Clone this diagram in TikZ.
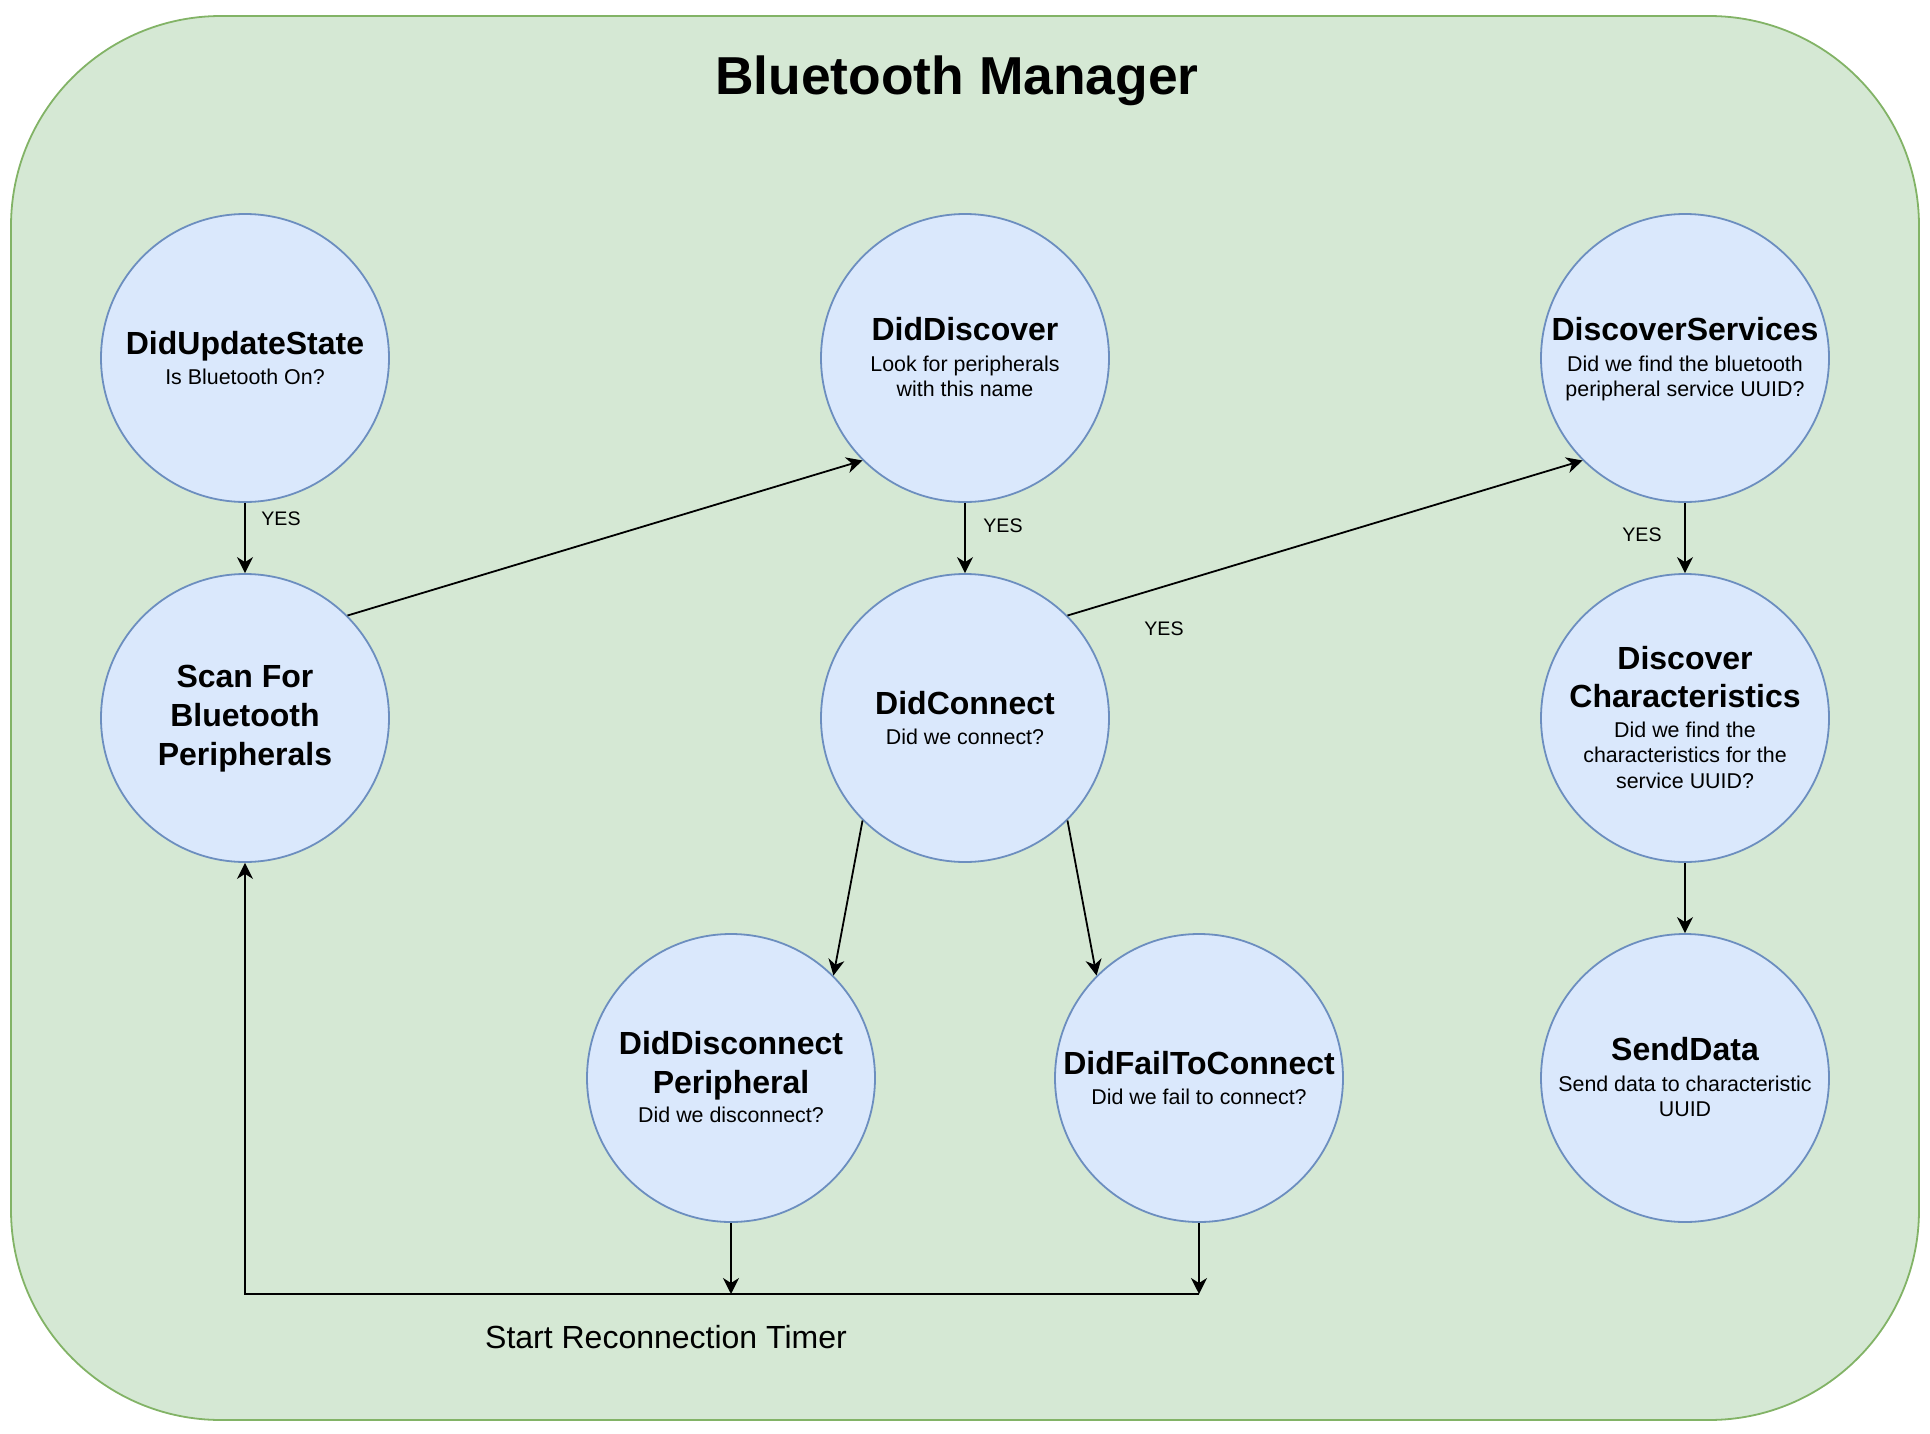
\documentclass[tikz,border=0pt]{standalone}
\usepackage{fontspec}
\setmainfont{Liberation Sans}
\usetikzlibrary{arrows.meta,calc}
\definecolor{bggreen}{HTML}{D5E8D4}
\definecolor{bgstroke}{HTML}{82B366}
\definecolor{cfill}{HTML}{DAE8FC}
\definecolor{cstroke}{HTML}{6C8EBF}
\begin{document}
\begin{tikzpicture}[x=1pt,y=-1pt,
  circ/.style={circle, minimum size=288pt, inner sep=0pt, fill=cfill, draw=cstroke, line width=1.8pt},
  ttl/.style={anchor=base, inner sep=0pt, font=\fontsize{32}{38}\selectfont\bfseries},
  sub/.style={anchor=base, inner sep=0pt, font=\fontsize{21.4}{25}\selectfont},
  yes/.style={inner sep=0pt, font=\fontsize{19.6}{23}\selectfont},
  arr/.style={line width=1.8pt, -{Stealth[length=16pt,width=16pt,inset=5pt]}}]
\useasboundingbox (0,0) rectangle (1930,1434);
\node[draw=bgstroke, fill=bggreen, line width=1.8pt, rounded corners=210pt,
      minimum width=1908pt, minimum height=1404pt, inner sep=0pt] (bg) at (965,718) {};
\node[anchor=base, inner sep=0pt, font=\fontsize{53.4}{64}\selectfont\bfseries] (title) at (957,95) {Bluetooth Manager};

% circles
\node[circ] (dus) at (245,358) {};
\node[circ] (scan) at (245,718) {};
\node[circ] (ddisc) at (965,358) {};
\node[circ] (dconn) at (965,718) {};
\node[circ] (dserv) at (1685,358) {};
\node[circ] (dchar) at (1685,718) {};
\node[circ] (send) at (1685,1078) {};
\node[circ] (ddisconn) at (731,1078) {};
\node[circ] (dfail) at (1199,1078) {};

% texts
\node[ttl] (dus-t) at ($(dus)+(0,-4)$) {DidUpdateState};
\node[sub] (dus-s) at ($(dus)+(0,26)$) {Is Bluetooth On?};

\node[ttl] (scan-t1) at ($(scan)+(0,-31)$) {Scan For};
\node[ttl] (scan-t2) at ($(scan)+(0,8)$) {Bluetooth};
\node[ttl] (scan-t3) at ($(scan)+(0,47)$) {Peripherals};

\node[ttl] (ddisc-t) at ($(ddisc)+(0,-18)$) {DidDiscover};
\node[sub] (ddisc-s1) at ($(ddisc)+(0,13)$) {Look for peripherals};
\node[sub] (ddisc-s2) at ($(ddisc)+(0,38)$) {with this name};

\node[ttl] (dconn-t) at ($(dconn)+(0,-4)$) {DidConnect};
\node[sub] (dconn-s) at ($(dconn)+(0,26)$) {Did we connect?};

\node[ttl] (dserv-t) at ($(dserv)+(0,-18)$) {DiscoverServices};
\node[sub] (dserv-s1) at ($(dserv)+(0,13)$) {Did we find the bluetooth};
\node[sub] (dserv-s2) at ($(dserv)+(0,38)$) {peripheral service UUID?};

\node[ttl] (dchar-t1) at ($(dchar)+(0,-49)$) {Discover};
\node[ttl] (dchar-t2) at ($(dchar)+(0,-11)$) {Characteristics};
\node[sub] (dchar-s1) at ($(dchar)+(0,19)$) {Did we find the};
\node[sub] (dchar-s2) at ($(dchar)+(0,44)$) {characteristics for the};
\node[sub] (dchar-s3) at ($(dchar)+(0,70)$) {service UUID?};

\node[ttl] (send-t) at ($(send)+(0,-18)$) {SendData};
\node[sub] (send-s1) at ($(send)+(0,13)$) {Send data to characteristic};
\node[sub] (send-s2) at ($(send)+(0,38)$) {UUID};

\node[ttl] (ddisconn-t1) at ($(ddisconn)+(0,-24)$) {DidDisconnect};
\node[ttl] (ddisconn-t2) at ($(ddisconn)+(0,15)$) {Peripheral};
\node[sub] (ddisconn-s) at ($(ddisconn)+(0,44)$) {Did we disconnect?};

\node[ttl] (dfail-t) at ($(dfail)+(0,-4)$) {DidFailToConnect};
\node[sub] (dfail-s) at ($(dfail)+(0,26)$) {Did we fail to connect?};

% connectors
\draw[arr] (dus) -- (scan);
\draw[arr] (scan.45) -- (ddisc.-135);
\draw[arr] (ddisc) -- (dconn);
\draw[arr] (dconn.45) -- (dserv.-135);
\draw[arr] (dserv) -- (dchar);
\draw[arr] (dchar) -- (send);
\draw[arr] (dconn.-135) -- (ddisconn.45);
\draw[arr] (dconn.-45) -- (dfail.135);

\coordinate (j0) at (245,1294);
\coordinate (j1) at (731,1294);
\coordinate (j2) at (1199,1294);
\draw[arr] (ddisconn) -- (j1);
\draw[arr] (dfail) -- (j2);
\draw[arr] (j2) -- (j0) -- (scan);

% labels
\node[yes] (yes1) at (281,519) {YES};
\node[yes] (yes2) at (1003,526) {YES};
\node[yes] (yes3) at (1642,535) {YES};
\node[yes] (yes4) at (1164,629) {YES};
\node[anchor=base, inner sep=0pt, font=\fontsize{32}{38}\selectfont] (timer) at (666,1348) {Start Reconnection Timer};
\end{tikzpicture}
\end{document}
